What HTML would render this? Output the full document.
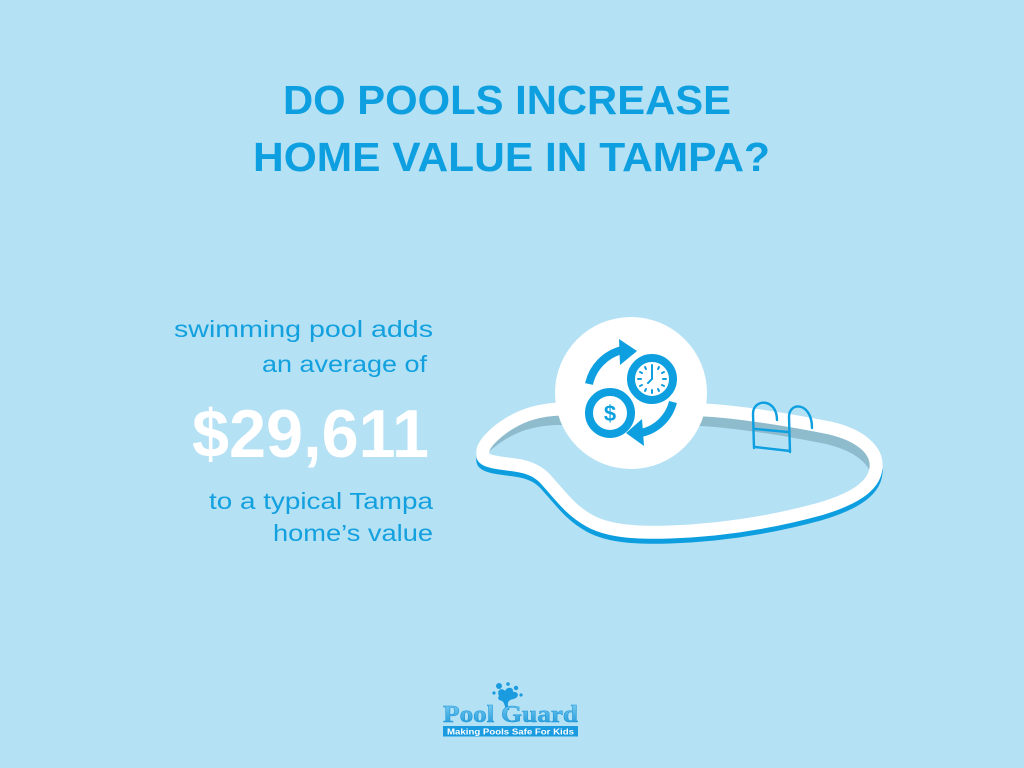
<!DOCTYPE html>
<html>
<head>
<meta charset="utf-8">
<style>
  html,body{margin:0;padding:0;background:#b4e1f4;}
  svg{display:block;}
</style>
</head>
<body>
<svg width="1024" height="768" viewBox="0 0 1024 768" xmlns="http://www.w3.org/2000/svg">
  <defs>
    <path id="pool" d="M 483,453
      C 481,446 495,432 510,423
      C 525,414 540,410 560,409
      L 705,410
      C 740,412 790,420 830,428
      C 860,435 878,450 876,468
      C 874,488 850,500 820,509
      C 780,520 730,530 670,532
      C 640,533 610,532 590,521
      C 570,510 560,495 548,482
      C 540,472 530,467 515,465
      C 500,463 488,462 484,458
      C 482,456 483,454 483,453 Z"/>
    <clipPath id="poolClip"><use href="#pool"/></clipPath>
    <linearGradient id="logoGrad" x1="0" y1="0" x2="0" y2="1">
      <stop offset="0" stop-color="#7fcff3"/>
      <stop offset="1" stop-color="#1593d6"/>
    </linearGradient>
  </defs>

  <rect width="1024" height="768" fill="#b4e1f4"/>

  <!-- Title -->
  <g font-family="Liberation Sans, sans-serif" font-weight="bold" font-size="40.5" fill="#0d9fe0">
    <text x="283" y="114" textLength="448" lengthAdjust="spacingAndGlyphs">DO POOLS INCREASE</text>
    <text x="253" y="171" textLength="517" lengthAdjust="spacingAndGlyphs">HOME VALUE IN TAMPA?</text>
  </g>

  <!-- Left text -->
  <g font-family="Liberation Sans, sans-serif" font-size="23" fill="#12a0df">
    <text x="174" y="337" textLength="259" lengthAdjust="spacingAndGlyphs">swimming pool adds</text>
    <text x="262" y="372" textLength="165" lengthAdjust="spacingAndGlyphs">an average of</text>
    <text x="209" y="509" textLength="224" lengthAdjust="spacingAndGlyphs">to a typical Tampa</text>
    <text x="273" y="541" textLength="160" lengthAdjust="spacingAndGlyphs">home’s value</text>
  </g>
  <text x="192" y="457" font-family="Liberation Sans, sans-serif" font-weight="bold" font-size="68" fill="#ffffff" textLength="237" lengthAdjust="spacingAndGlyphs">$29,611</text>

  <!-- Pool -->
  <use href="#pool" transform="translate(0,5)" fill="none" stroke="#0d9ee0" stroke-width="13" stroke-linejoin="round"/>
  <use href="#pool" fill="#b4e1f4"/>
  <g clip-path="url(#poolClip)">
    <rect x="460" y="390" width="440" height="170" fill="#8fbccd"/>
    <use href="#pool" transform="translate(-4,16)" fill="#b4e1f4"/>
  </g>
  <use href="#pool" fill="none" stroke="#ffffff" stroke-width="13" stroke-linejoin="round"/>

  <!-- Ladder -->
  <g fill="none" stroke="#0d9fe0" stroke-width="2.4" stroke-linecap="round">
    <path d="M 754,448 L 753,414 C 753,398 777,398 777,420"/>
    <path d="M 790,452 L 789,417 C 789,401 812,402 812,428"/>
    <path d="M 755,429 L 788,432"/>
    <path d="M 755,447 L 790,451"/>
  </g>

  <!-- Circle with icon -->
  <circle cx="631" cy="393" r="76" fill="#ffffff"/>
  <g fill="none" stroke="#0d9fe0">
    <circle cx="652" cy="379" r="21" stroke-width="8"/>
    <circle cx="610" cy="413" r="21" stroke-width="8"/>
    <path d="M 589,384 A 45 45 0 0 1 622,350" stroke-width="8"/>
    <path d="M 673,402 A 42 42 0 0 1 641,433" stroke-width="8"/>
  </g>
  <polygon points="619,339 637,351 620,365" fill="#0d9fe0"/>
  <polygon points="642,419 626,433 644,446" fill="#0d9fe0"/>
  <g stroke="#0d9fe0" stroke-width="2" stroke-linecap="round">
    <line x1="652" y1="365" x2="652" y2="368"/>
    <line x1="652" y1="390" x2="652" y2="393"/>
    <line x1="638" y1="379" x2="641" y2="379"/>
    <line x1="663" y1="379" x2="666" y2="379"/>
    <line x1="645" y1="367" x2="646" y2="369"/>
    <line x1="659" y1="367" x2="658" y2="369"/>
    <line x1="645" y1="391" x2="646" y2="389"/>
    <line x1="659" y1="391" x2="658" y2="389"/>
    <line x1="640" y1="372" x2="642" y2="373"/>
    <line x1="664" y1="372" x2="662" y2="373"/>
    <line x1="640" y1="386" x2="642" y2="385"/>
    <line x1="664" y1="386" x2="662" y2="385"/>
    <path d="M 652,369 L 652,379 L 648,383" fill="none"/>
  </g>
  <text x="610" y="421" text-anchor="middle" font-family="Liberation Sans, sans-serif" font-weight="bold" font-size="22" fill="#0d9fe0">$</text>

  <!-- Logo -->
  <g fill="#1a9be0">
    <path d="M 499,696 C 496,690 502,687 505,691 C 507,686 514,687 513,692 C 517,691 520,695 516,698 C 512,700 509,699 508,703 C 507,706 510,708 509,710 L 506,710 C 505,706 504,702 502,701 C 499,700 497,699 499,696 Z"/>
    <circle cx="499" cy="686" r="3"/>
    <circle cx="508" cy="684" r="1.8"/>
    <circle cx="516" cy="688" r="2.2"/>
    <circle cx="521" cy="695" r="1.6"/>
    <circle cx="494" cy="693" r="1.6"/>
  </g>
  <text x="443" y="722" font-family="Liberation Serif, serif" font-weight="bold" font-size="24" fill="url(#logoGrad)" stroke="#1a95d8" stroke-width="0.5" textLength="135" lengthAdjust="spacingAndGlyphs">Pool Guard</text>
  <rect x="443" y="726" width="135" height="10.5" fill="#1a9be0"/>
  <text x="447" y="734.3" font-family="Liberation Sans, sans-serif" font-weight="bold" font-size="8" fill="#ffffff" textLength="127" lengthAdjust="spacingAndGlyphs">Making Pools Safe For Kids</text>
</svg>
</body>
</html>
